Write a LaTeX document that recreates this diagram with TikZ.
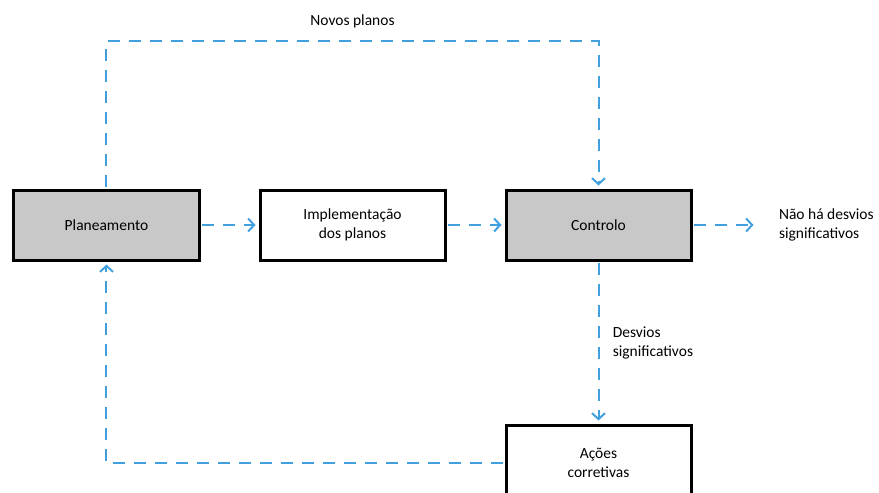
\documentclass[tikz,border=0pt]{standalone}
\usepackage{fontspec}
\setmainfont{Carlito}
\usetikzlibrary{positioning,arrows.meta}
\definecolor{flowblue}{RGB}{66,160,222}
\definecolor{boxgrey}{RGB}{200,200,200}

\begin{document}
\begin{tikzpicture}[node distance =246pt and 246pt ,on grid ,
font=\fontsize{15.5}{19}\selectfont ,
box/.style ={rectangle ,draw ,line width=3pt ,fill=white ,
minimum width =185pt ,minimum height =70pt ,align=center ,text=black},
greybox/.style ={box ,fill=boxgrey},
flow/.style ={flowblue ,line width=2pt ,dash pattern=on 12pt off 9pt ,
-{Straight Barb[length=6pt,width=13pt,line width=2pt]} ,shorten >=3pt ,shorten <=1.5pt},
txt/.style ={align=left ,text=black}]
\useasboundingbox (-106.5pt,225pt) rectangle (772.5pt,-268pt);
\node[greybox] (P) {Planeamento};
\node[box] (I) [right = of P] {Implementação\\dos planos};
\node[greybox] (C) [right = of I] {Controlo};
\node[box ,minimum height =76pt] (A) [below = 238pt of C] {Ações\\corretivas};
\node[txt ,anchor=west] (N) at ([xshift=83pt]C.east) {Não há desvios\\significativos};
\draw[flow] (P) -- (I);
\draw[flow] (I) -- (C);
\draw[flow ,shorten >=22pt] (C) -- (N);
\draw[flow] (C) -- node[txt ,anchor=west ,xshift=10pt] {Desvios\\significativos} (A);
\draw[flow] (P.north) -- ++(0,147pt) -| node[txt ,pos=0.25 ,anchor=south ,yshift=9pt] {Novos planos} (C.north);
\draw[flow] (A) -| (P);
\end{tikzpicture}
\end{document}
